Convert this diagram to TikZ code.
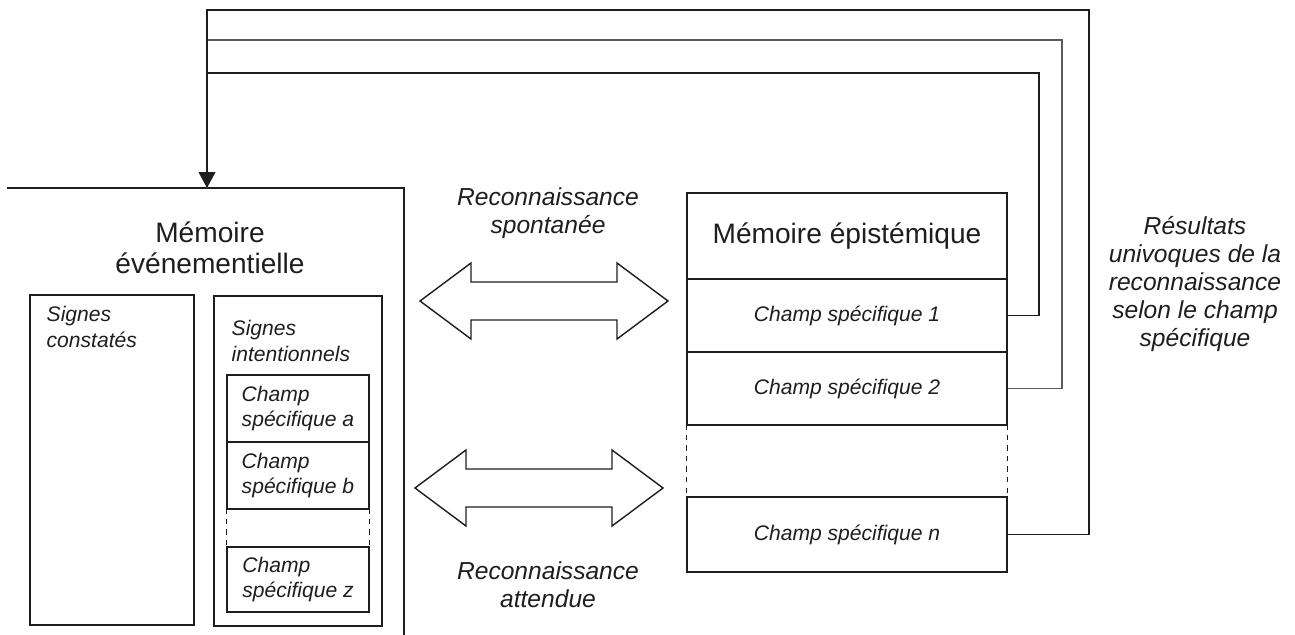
\documentclass[tikz,border=0pt]{standalone}
\usepackage{fontspec}
\setmainfont{Liberation Sans}
\usepackage{tikz}
\usetikzlibrary{arrows.meta}
\definecolor{inkgrey}{RGB}{30,30,30}
\definecolor{rulegrey}{RGB}{90,90,90}
% hollow double arrow: left tip x, right tip x, mid y
\newcommand{\bigarrow}[3]{%
  \draw[fill=white] (#1,#3) -- ++(51,-38) -- ++(0,19)
    -- (#2-51,#3-19) -- ++(0,-19) -- (#2,#3) -- ++(-51,38) -- ++(0,-19)
    -- (#1+51,#3+19) -- ++(0,19) -- cycle;}

\begin{document}
\begin{tikzpicture}[x=0.02cm, y=-0.02cm, line width=0.8pt, color=inkgrey,
    box/.style={draw=inkgrey, inner sep=0pt, font=\fontsize{12}{14.4}\selectfont\itshape},
    champL/.style={box, minimum width=2.84cm, align=left},
    champR/.style={box, minimum width=6.4cm, minimum height=1.46cm},
    txt/.style={inner sep=0pt, align=left, font=\fontsize{12}{14.4}\selectfont\itshape},
    lbl/.style={inner sep=0pt, align=center, font=\fontsize{14}{15.8}\selectfont\itshape}]
        \useasboundingbox (0,0) rectangle (1295,635);

        % Memoire evenementielle (left)
        \draw (7,188) -| (404,635);
        \coordinate (evt) at (207,188);
        \node[align=center, inner sep=0pt, font=\fontsize{16}{17.6}\selectfont]
          (evtT) at (210,248) {Mémoire\\événementielle};

        \node[box, minimum width=3.28cm, minimum height=6.6cm] (constates) at (112,460) {};
        \node[txt, anchor=north west] (constatesT) at (46,306) {Signes\\constatés};

        \node[box, minimum width=3.36cm, minimum height=6.6cm] (intent) at (298,461) {};
        \node[txt, anchor=north west] (intentT) at (231,320) {Signes\\intentionnels};
        \node[champL, minimum height=1.34cm] (ca) at (298,408.5) {Champ\\spécifique a};
        \node[champL, minimum height=1.34cm] (cb) at (298,475.5) {Champ\\spécifique b};
        \node[minimum width=2.84cm, minimum height=0.76cm, inner sep=0pt] (cdotsL) at (298,528) {};
        \draw[dashed] (cdotsL.north west) -- (cdotsL.south west);
        \draw[dashed] (cdotsL.north east) -- (cdotsL.south east);
        \node[champL, minimum height=1.3cm] (cz) at (298,579.5) {Champ\\spécifique z};

        % Memoire epistemique (right)
        \node[box, minimum width=6.4cm, minimum height=1.72cm, font=\fontsize{16}{19}\selectfont]
          (epist) at (847,236) {Mémoire épistémique};
        \node[champR] (c1) at (847,315.5) {Champ spécifique 1};
        \node[champR] (c2) at (847,388.5) {Champ spécifique 2};
        \node[minimum width=6.4cm, minimum height=1.44cm, inner sep=0pt] (cdotsR) at (847,461) {};
        \draw[dashed] (cdotsR.north west) -- (cdotsR.south west);
        \draw[dashed] (cdotsR.north east) -- (cdotsR.south east);
        \node[champR, minimum height=1.5cm] (cn) at (847,534.5) {Champ spécifique n};

        % Reconnaissance
        \bigarrow{420}{668}{301}
        \bigarrow{415}{663}{488}
        \node[lbl] (spont) at (548,213) {Reconnaissance\\spontanée};
        \node[lbl] (attendue) at (548,585) {Reconnaissance\\attendue};

        % Retour des resultats
        \draw (c1.east) -| (1039,73) -| (evt);
        \draw[rulegrey] (c2.east) -| (1062,40) -| (evt);
        \draw[-{Triangle[width=9.5pt,length=9pt]}] (cn.east) -| (1089,10) -| (evt);
        \node[lbl] (result) at (1195,284)
          {Résultats\\univoques de la\\reconnaissance\\selon le champ\\spécifique};
      \end{tikzpicture}
\end{document}
